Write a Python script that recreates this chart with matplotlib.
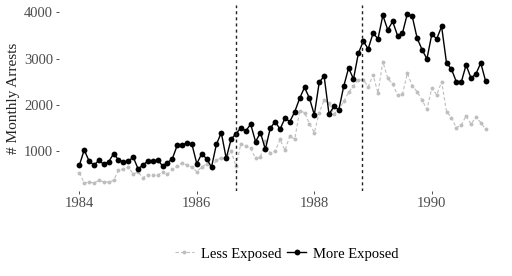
import matplotlib
matplotlib.use("Agg")
import matplotlib.pyplot as plt
import numpy as np

plt.rcParams['font.family'] = ['Liberation Serif', 'DejaVu Serif']

# Monthly data, Jan 1984 .. Dec 1990
start_year = 1984
more_exposed = [689, 1022, 783, 696, 798, 711, 767, 941, 811, 767, 776, 870,
                615, 696, 785, 783, 804, 681, 746, 833, 1124, 1124, 1181, 1146,
                724, 941, 833, 652, 1146, 1395, 841, 1254, 1376, 1500, 1435, 1580,
                1202, 1398, 1037, 1493, 1637, 1471, 1711, 1637, 1850, 2140, 2377, 2145,
                1783, 2486, 2623, 1797, 1964, 1891, 2399, 2797, 2558, 3116, 3377, 3210,
                3551, 3428, 3935, 3623, 3804, 3500, 3551, 3971, 3913, 3442, 3196, 2993,
                3530, 3428, 3696, 2906, 2775, 2500, 2486, 2862, 2580, 2667, 2906, 2507]
less_exposed = [528, 311, 326, 311, 363, 333, 326, 363, 580, 615, 652, 507,
                543, 420, 490, 478, 472, 551, 493, 601, 674, 746, 696, 652,
                551, 652, 724, 638, 797, 855, 841, 1000, 674, 1159, 1109, 1058,
                841, 870, 1217, 949, 1000, 1254, 1014, 1326, 1254, 1866, 1833, 1594,
                1399, 1833, 2101, 2029, 1797, 1906, 2072, 2268, 2413, 2543, 2536, 2391,
                2650, 2254, 2935, 2572, 2449, 2210, 2232, 2681, 2413, 2283, 2101, 1906,
                2360, 2217, 2500, 1855, 1725, 1507, 1558, 1761, 1580, 1739, 1616, 1471]
event_lines = [1986 + 8 / 12, 1988 + 9.75 / 12]
x_ticks = [1984, 1986, 1988, 1990]
y_ticks = [1000, 2000, 3000, 4000]
series_labels = ["Less Exposed", "More Exposed"]

t = start_year + np.arange(len(more_exposed)) / 12.0

fig = plt.figure(figsize=(5.12, 2.76), dpi=100)
ax = fig.add_axes([59 / 512, 1 - 191.3 / 276, (506 - 59) / 512, (191.3 - 5.3) / 276])

ax.plot(t, less_exposed, color="#BEBEBE", lw=0.8, linestyle=(0, (3, 2)),
        marker="o", markersize=2.8, markeredgewidth=0, label=series_labels[0])
ax.plot(t, more_exposed, color="black", lw=1.0,
        marker="o", markersize=4.2, markeredgewidth=0, label=series_labels[1])

for v in event_lines:
    ax.axvline(v, color="#222222", lw=1.0, linestyle=(0, (2.2, 2.2)))

allv = np.array(less_exposed + more_exposed)
xr = t.max() - t.min()
yr = allv.max() - allv.min()
ax.set_xlim(t.min() - 0.05 * xr, t.max() + 0.05 * xr)
ax.set_ylim(allv.min() - 0.05 * yr, allv.max() + 0.05 * yr)

ax.set_xticks(x_ticks)
ax.set_xticklabels([str(v) for v in x_ticks])
ax.set_yticks(y_ticks)
ax.set_yticklabels([str(v) for v in y_ticks])
for s in ax.spines.values():
    s.set_visible(False)
ax.tick_params(axis="both", length=2.4, width=0.6, color="#333333",
               labelsize=10.5, labelcolor="#4D4D4D", pad=2)
ax.set_ylabel("# Monthly Arrests", fontsize=11, color="#222222", labelpad=3)

leg = fig.legend(loc="center", bbox_to_anchor=(0.56, 1 - 254 / 276), ncol=2,
                 frameon=False, fontsize=10.5, handlelength=1.3,
                 handletextpad=0.5, columnspacing=0.4)

fig.savefig("out.png", dpi=100)
